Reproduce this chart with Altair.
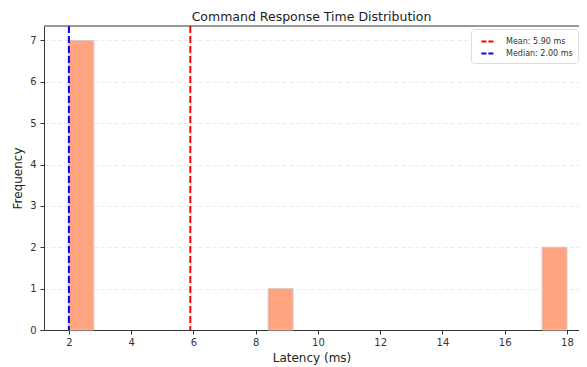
import altair as alt
import pandas as pd

# Histogram bins (non-empty), bin width 0.8 ms
bin_start = [2.0, 8.4, 17.2]
bin_end = [2.8, 9.2, 18.0]
counts = [7, 1, 2]

# Reference lines
stat_labels = ["Mean: 5.90 ms", "Median: 2.00 ms"]
stat_values = [5.90, 2.00]
stat_colors = ["#ff0000", "#0000ff"]

x_ticks = [2, 4, 6, 8, 10, 12, 14, 16, 18]
y_ticks = [0, 1, 2, 3, 4, 5, 6, 7]

bars_df = pd.DataFrame({"start": bin_start, "end": bin_end, "count": counts})
stats_df = pd.DataFrame({"label": stat_labels, "value": stat_values})
spine_df = pd.DataFrame({"k": [0]})

W, H = 535, 304
FONT = "DejaVu Sans"

xscale = alt.Scale(domain=[1.2, 18.386], nice=False, zero=False)
yscale = alt.Scale(domain=[0, 7.35], nice=False)

bars = alt.Chart(bars_df).mark_rect(
    fill="#FFA47F", stroke="#d8c8c0", strokeWidth=1
).encode(
    x=alt.X("start:Q", scale=xscale,
            axis=alt.Axis(values=x_ticks, title="Latency (ms)", grid=False, format="d")),
    x2="end:Q",
    y=alt.Y("count:Q", scale=yscale,
            axis=alt.Axis(values=y_ticks, title="Frequency", grid=True,
                          gridDash=[4, 3], gridColor="#e4e4e4", gridWidth=0.8)),
    y2=alt.datum(0),
)

rules = alt.Chart(stats_df).mark_rule(strokeWidth=2, strokeDash=[7, 3]).encode(
    x=alt.X("value:Q", scale=xscale),
    color=alt.Color(
        "label:N",
        scale=alt.Scale(domain=stat_labels, range=stat_colors),
        legend=alt.Legend(
            title=None, orient="none", legendX=427, legendY=3,
            symbolType="stroke", symbolDash=[5, 2], symbolStrokeWidth=2,
            symbolSize=150, symbolOffset=4, labelFontSize=8, labelFont=FONT,
            labelColor="#333", fillColor="white", strokeColor="#dddddd",
            padding=5, cornerRadius=3, rowPadding=0, labelOffset=11,
        ),
    ),
)

top_spine = alt.Chart(spine_df).mark_rule(color="#333333", strokeWidth=1).encode(
    x=alt.value(0), x2=alt.value(W), y=alt.value(0)
)

chart = (
    alt.layer(bars, rules, top_spine)
    .properties(
        width=W, height=H,
        title=alt.Title("Command Response Time Distribution", fontSize=12.5, font=FONT,
                        fontWeight="normal", color="#222", offset=2),
        autosize=alt.AutoSizeParams(type="none"),
        padding={"left": 36, "top": 18, "right": 0, "bottom": 36},
    )
    .configure_view(stroke=None)
    .configure_axis(
        labelFont=FONT, labelFontSize=10, labelColor="#333",
        titleFont=FONT, titleFontSize=12, titleFontWeight="normal", titleColor="#222",
        domainColor="#333333", tickColor="#333333", tickSize=4, labelPadding=3,
    )
    .configure_axisY(titlePadding=5, labelPadding=4)
    .configure_axisX(titlePadding=5)
)

chart.save("out.html", embed_options={"renderer": "svg", "actions": False})
